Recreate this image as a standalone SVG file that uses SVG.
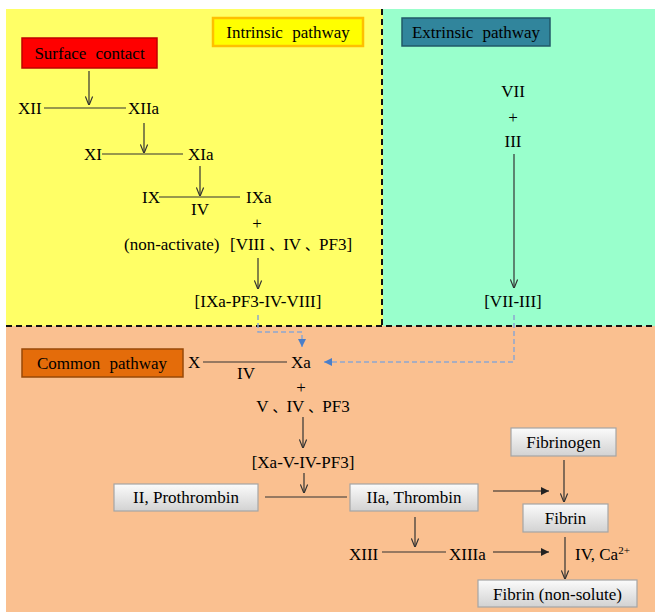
<svg xmlns="http://www.w3.org/2000/svg" width="655" height="612" viewBox="0 0 655 612">
<defs>
<style>
text{font-family:'Liberation Serif','Times New Roman','DejaVu Serif',serif;font-size:17px;fill:#000;}
.cjk{font-family:'Noto Sans CJK SC','Noto Sans CJK JP',sans-serif;font-size:14px;}
.m{text-anchor:middle;}
.lb{font-size:17px;word-spacing:5px;}
.ln{stroke:#333;stroke-width:1.2;fill:none;}
.ar{stroke:#333;stroke-width:1.2;fill:none;marker-end:url(#open);}
.arf{stroke:#222;stroke-width:1.2;fill:none;marker-end:url(#fill);}
.dash{stroke:#8DA6CF;stroke-width:1.5;stroke-dasharray:5 3;fill:none;marker-end:url(#blue);}
.div{stroke:#111;stroke-width:2;stroke-dasharray:6 4;fill:none;}
.gb{fill:url(#gray);stroke:#A5A5A5;stroke-width:1.2;}
</style>
<linearGradient id="gray" x1="0" y1="0" x2="0" y2="1">
<stop offset="0" stop-color="#FBFBFB"/>
<stop offset="1" stop-color="#D2D2D2"/>
</linearGradient>
<marker id="open" viewBox="0 0 10 10" refX="9.5" refY="5" markerWidth="9" markerHeight="9" markerUnits="userSpaceOnUse" orient="auto">
<path d="M0,1 L10,5 L0,9" fill="none" stroke="#333" stroke-width="1.3"/>
</marker>
<marker id="fill" viewBox="0 0 10 10" refX="10" refY="5" markerWidth="9" markerHeight="8" markerUnits="userSpaceOnUse" orient="auto">
<path d="M0,0 L10,5 L0,10 Z" fill="#222"/>
</marker>
<marker id="blue" viewBox="0 0 10 10" refX="10" refY="5" markerWidth="8" markerHeight="8" markerUnits="userSpaceOnUse" orient="auto">
<path d="M0,0 L10,5 L0,10 Z" fill="#4A7EC8"/>
</marker>
</defs>

<g id="regions">
<rect x="6" y="9" width="377" height="317" fill="#FFFF66"/>
<rect x="383" y="9" width="272" height="317" fill="#99FFCC"/>
<rect x="6" y="326" width="649" height="286" fill="#FAC090"/>
<line class="div" x1="382" y1="9" x2="382" y2="326"/>
<line class="div" x1="6" y1="326" x2="655" y2="326"/>
</g>

<g id="connectors">
<line class="ar" x1="89" y1="71" x2="89" y2="105"/>
<line class="ln" x1="44" y1="108" x2="126" y2="108"/>
<line class="ar" x1="144" y1="123" x2="144" y2="153"/>
<line class="ln" x1="102" y1="154" x2="183" y2="154"/>
<line class="ar" x1="200" y1="166" x2="200" y2="196"/>
<line class="ln" x1="159" y1="197" x2="240" y2="197"/>
<line class="ar" x1="258" y1="258" x2="258" y2="289"/>
<line class="ar" x1="514" y1="154" x2="514" y2="288"/>
<polyline class="dash" points="258,315 258,332 302,332 302,347"/>
<polyline class="dash" points="514,315 514,362 324,362"/>
<line class="ln" x1="203" y1="362" x2="287" y2="362"/>
<line class="ar" x1="303" y1="417" x2="303" y2="448"/>
<line class="ar" x1="304" y1="473" x2="304" y2="493"/>
<line class="ln" x1="265" y1="497" x2="347" y2="497"/>
<line class="arf" x1="493" y1="491" x2="549" y2="491"/>
<line class="ar" x1="564" y1="460" x2="564" y2="502"/>
<line class="ar" x1="415" y1="517" x2="415" y2="547"/>
<line class="ln" x1="382" y1="552" x2="446" y2="552"/>
<line class="arf" x1="493" y1="552" x2="549" y2="552"/>
<line class="ar" x1="565" y1="537" x2="565" y2="579"/>
</g>

<g id="intrinsic-label">
<rect x="213" y="18" width="150" height="28" fill="#FFFF00" stroke="#FFC000" stroke-width="2.5"/>
<text class="m lb" x="288" y="38">Intrinsic pathway</text>
</g>
<g id="extrinsic-label">
<rect x="402" y="18" width="148" height="28" fill="#31859C" stroke="#215968" stroke-width="1.5"/>
<text class="m lb" x="476" y="38">Extrinsic pathway</text>
</g>
<g id="surface-contact">
<rect x="22" y="38" width="135" height="30" fill="#FF0000" stroke="#C00000" stroke-width="1.5"/>
<text class="m lb" x="89.5" y="59">Surface contact</text>
</g>
<g id="common-label">
<rect x="22" y="349" width="161" height="28" fill="#E46C0A" stroke="#984807" stroke-width="1.5"/>
<text class="m lb" x="102" y="369">Common pathway</text>
</g>

<g id="XII"><text x="18" y="114">XII</text></g>
<g id="XIIa"><text x="128" y="114">XIIa</text></g>
<g id="XI"><text x="84" y="160">XI</text></g>
<g id="XIa"><text x="188" y="160">XIa</text></g>
<g id="IX"><text x="142" y="203">IX</text></g>
<g id="IXa"><text x="246" y="203">IXa</text></g>
<g id="IV-1"><text class="m" x="200" y="215">IV</text></g>
<g id="plus-1"><text class="m" x="257" y="229">+</text></g>
<g id="non-activate"><text x="124" y="250">(non-activate)</text></g>
<g id="VIII-IV-PF3"><text x="230" y="250">[VIII <tspan class="cjk">、</tspan>IV <tspan class="cjk">、</tspan>PF3]</text></g>
<g id="IXa-complex"><text class="m" x="258" y="307">[IXa-PF3-IV-VIII]</text></g>

<g id="VII"><text class="m" x="513" y="97">VII</text></g>
<g id="plus-2"><text class="m" x="513" y="123">+</text></g>
<g id="III"><text class="m" x="513" y="147">III</text></g>
<g id="VII-III"><text class="m" x="513" y="307">[VII-III]</text></g>

<g id="X"><text x="188" y="368">X</text></g>
<g id="Xa"><text x="291" y="368">Xa</text></g>
<g id="IV-2"><text class="m" x="246" y="379">IV</text></g>
<g id="plus-3"><text class="m" x="301" y="393">+</text></g>
<g id="V-IV-PF3"><text class="m" x="303" y="412">V <tspan class="cjk">、</tspan>IV <tspan class="cjk">、</tspan>PF3</text></g>
<g id="Xa-complex"><text class="m" x="303" y="468">[Xa-V-IV-PF3]</text></g>

<g id="prothrombin">
<rect class="gb" x="114" y="484" width="144" height="27"/>
<text class="m" x="186" y="503">II, Prothrombin</text>
</g>
<g id="thrombin">
<rect class="gb" x="350" y="484" width="128" height="27"/>
<text class="m" x="414" y="503">IIa, Thrombin</text>
</g>
<g id="fibrinogen">
<rect class="gb" x="511" y="428" width="105" height="28"/>
<text class="m" x="563.5" y="448">Fibrinogen</text>
</g>
<g id="fibrin">
<rect class="gb" x="523" y="504" width="85" height="28"/>
<text class="m" x="565.5" y="524">Fibrin</text>
</g>
<g id="XIII"><text x="349" y="560">XIII</text></g>
<g id="XIIIa"><text x="449" y="560">XIIIa</text></g>
<g id="IV-Ca"><text x="575" y="560">IV, Ca<tspan dy="-6" style="font-size:11px">2+</tspan></text></g>
<g id="fibrin-nonsolute">
<rect class="gb" x="478" y="580" width="159" height="27"/>
<text class="m" x="557.5" y="600">Fibrin (non-solute)</text>
</g>
</svg>
